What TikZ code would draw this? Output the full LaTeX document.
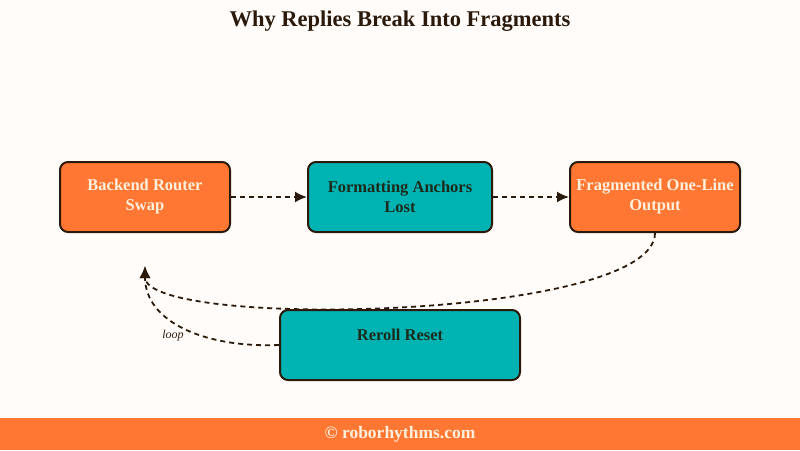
\documentclass[tikz,border=0pt]{standalone}
\usepackage{fontspec}
\setmainfont{Liberation Serif}
\usetikzlibrary{arrows.meta, positioning}

\definecolor{bgcream}{HTML}{FFFCF9}
\definecolor{boxorange}{HTML}{FF7733}
\definecolor{boxteal}{HTML}{00B3B3}
\definecolor{edgebrown}{HTML}{2B1A0C}
\definecolor{lighttext}{HTML}{FFF0DC}
\definecolor{darktext}{HTML}{1C2A1C}

\tikzset{
  stagebox/.style={rectangle, rounded corners=8pt, draw=edgebrown, line width=2pt,
    minimum height=70pt, align=center, font=\bfseries\fontsize{16.5}{20}\selectfont},
  hotbox/.style={stagebox, fill=boxorange, text=lighttext},
  coolbox/.style={stagebox, fill=boxteal, text=darktext},
  flowline/.style={edgebrown, line width=1.8pt, dash pattern=on 5pt off 4pt,
    -{Latex[length=12pt,width=11pt]}}
}

\begin{document}
\begin{tikzpicture}[x=1pt, y=-1pt]
\fill[bgcream] (0,0) rectangle (800,450);
\useasboundingbox (0,0) rectangle (800,450);

\node[font=\bfseries\fontsize{22.5}{26}\selectfont, text=edgebrown] (title) at (400,21) {Why Replies Break Into Fragments};

\node[hotbox, minimum width=170pt] (router) at (145,197) {Backend Router\\Swap};
\node[coolbox, minimum width=184pt] (anchors) at (400,197) {Formatting Anchors\\Lost};
\node[hotbox, minimum width=170pt] (oneline) at (655,197) {Fragmented One-Line\\Output};
\node[coolbox, minimum width=240pt, text depth=21pt] (reroll) at (400,345) {Reroll Reset};
\coordinate (back) at (145,266);

%connections
\draw[flowline] (router) -- (anchors);
\draw[flowline] (anchors) -- (oneline);
\draw[flowline] (oneline.south) .. controls (655,320) and (145,330) .. (back);
\draw[flowline] (reroll.west) .. controls (205,348) and (145,322) .. node[pos=0.4, left=12pt, yshift=-1pt, font=\itshape\fontsize{12}{13}\selectfont, text=edgebrown] (looplabel) {loop} (back);

%footer
\fill[boxorange] (0,418) rectangle (800,450);
\node[font=\bfseries\fontsize{17.5}{20}\selectfont, text=lighttext] (credit) at (400,434) {© roborhythms.com};
\end{tikzpicture}
\end{document}
